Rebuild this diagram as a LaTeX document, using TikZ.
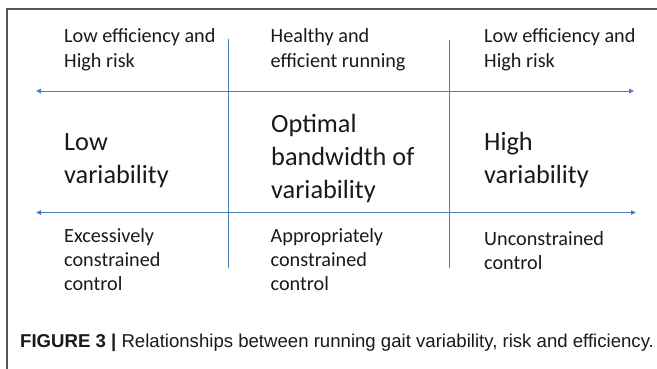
\documentclass[tikz,border=0pt]{standalone}
\usepackage{fontspec}
\setmainfont{Carlito}
\newfontfamily\capfont{Liberation Sans}
\usetikzlibrary{arrows.meta}
\definecolor{axisblue}{HTML}{4A7EBB}
\definecolor{framegray}{HTML}{555555}
\definecolor{inktext}{HTML}{1A1A1A}
\begin{document}
\begin{tikzpicture}[x=1pt,y=-1pt,
  smalltext/.style={anchor=base west,inner sep=0pt,text=inktext,font=\fontsize{20.2}{24}\selectfont},
  largetext/.style={anchor=base west,inner sep=0pt,text=inktext,font=\fontsize{26.3}{32}\selectfont},
  captext/.style={anchor=base west,inner sep=0pt,text=inktext,font=\capfont\fontsize{18.6}{22}\selectfont},
  axisline/.style={draw=axisblue,line width=0.9pt,{Triangle[length=5pt,width=4.5pt]}-{Triangle[length=5pt,width=4.5pt]}},
  divider/.style={draw=axisblue,line width=0.8pt},
  framestroke/.style={draw=framegray,line width=1.4pt}]
\useasboundingbox (0,0) rectangle (657,369);
\fill[white] (0,0) rectangle (657,369);
% frame
\draw[framestroke] (7,369) -- (7,9) -- (657,9);
% axes
\coordinate (ual) at (36,91);
\coordinate (uar) at (634,91);
\coordinate (lal) at (36,212.5);
\coordinate (lar) at (636,212.5);
\draw[axisline] (ual) -- (uar);
\draw[axisline] (lal) -- (lar);
% dividers
\coordinate (d1t) at (228,39);
\coordinate (d1b) at (228,268);
\coordinate (d2t) at (449.5,40);
\coordinate (d2b) at (449.5,268);
\draw[divider] (d1t) -- (d1b);
\draw[divider] (d2t) -- (d2b);
% top row
\node[smalltext] (tl1) at (64,43) {Low efficiency and};
\node[smalltext] (tl2) at (64,67.5) {High risk};
\node[smalltext] (tm1) at (270.5,43) {Healthy and};
\node[smalltext] (tm2) at (270.5,67.5) {efficient running};
\node[smalltext] (tr1) at (484,43) {Low efficiency and};
\node[smalltext] (tr2) at (484,67.5) {High risk};
% middle row
\node[largetext] (ml1) at (64,150) {Low};
\node[largetext] (ml2) at (64,183) {variability};
\node[largetext] (mm1) at (271,133) {Optimal};
\node[largetext] (mm2) at (271,165.7) {bandwidth of};
\node[largetext] (mm3) at (271,198) {variability};
\node[largetext] (mr1) at (484,150) {High};
\node[largetext] (mr2) at (484,183) {variability};
% bottom row
\node[smalltext] (bl1) at (64,242.7) {Excessively};
\node[smalltext] (bl2) at (64,266.7) {constrained};
\node[smalltext] (bl3) at (64,290.7) {control};
\node[smalltext] (bm1) at (270.5,242.7) {Appropriately};
\node[smalltext] (bm2) at (270.5,266.7) {constrained};
\node[smalltext] (bm3) at (270.5,290.7) {control};
\node[smalltext] (br1) at (484,245) {Unconstrained};
\node[smalltext] (br2) at (484,269) {control};
% caption
\node[captext] (cap) at (20,347) {\textbf{FIGURE 3 |} Relationships between running gait variability, risk and efficiency.};
\end{tikzpicture}
\end{document}
